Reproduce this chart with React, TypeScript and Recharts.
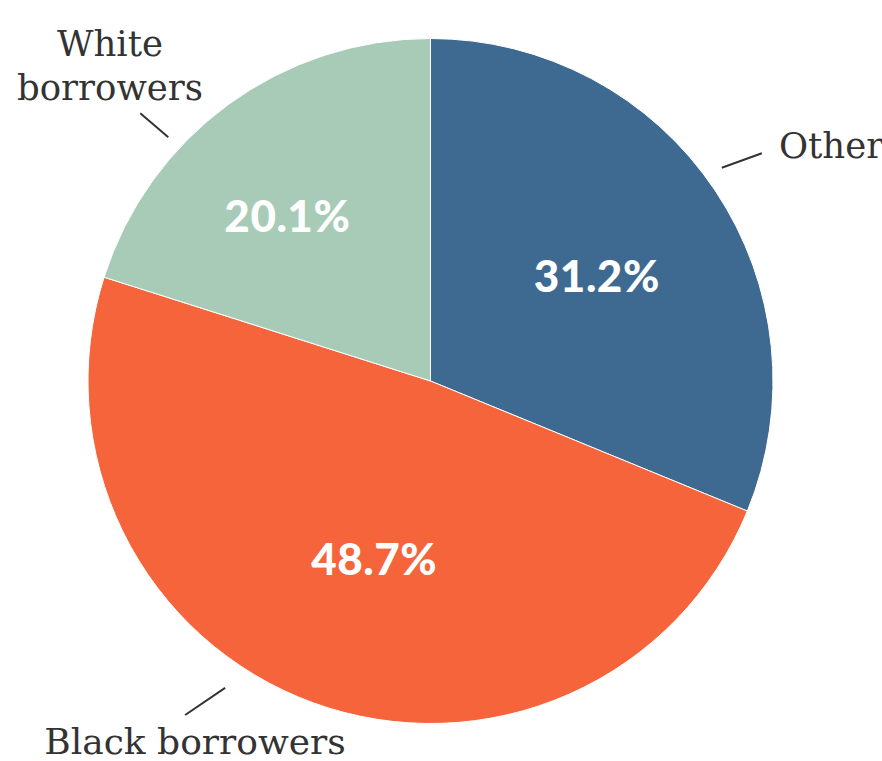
import React from 'react';
import { PieChart, Pie, Cell } from 'recharts';

const categories = ['Other', 'Black borrowers', 'White borrowers'];
const shares = [31.2, 48.7, 20.1];
const pctLabels = ['31.2%', '48.7%', '20.1%'];
const outerLabelLines = [['Other'], ['Black borrowers'], ['White', 'borrowers']];

const colors = ['#3e6a91', '#f5643a', '#a7cbb7'];

// label layout: angle offsets (deg, clockwise) and radius factors relative to outerRadius
const inner = [
  { da: 1.3, rf: 0.576 },
  { da: -2.3, rf: 0.542 },
  { da: -4.6, rf: 0.64 },
];
const leaders = [
  { a0: 53.8, r0: 1.054, a1: 55.5, r1: 1.174, tx: 779, anchor: 'start', ty: 145, fs: 35.5 },
  { a0: 213.8, r0: 1.078, a1: 216.3, r1: 1.21, tx: 195, anchor: 'middle', ty: 741, fs: 36 },
  { a0: 312.9, r0: 1.045, a1: 312.7, r1: 1.153, tx: 110, anchor: 'middle', ty: 65, fs: 35.5 },
];

const data = categories.map((name, i) => ({ name, value: shares[i], pct: pctLabels[i] }));

const RAD = Math.PI / 180;
const pt = (cx: number, cy: number, r: number, cwDeg: number) => ({
  x: cx + r * Math.sin(cwDeg * RAD),
  y: cy - r * Math.cos(cwDeg * RAD),
});

const renderLabel = (props: any) => {
  const { cx, cy, midAngle, outerRadius, index } = props;
  const cwMid = 90 - midAngle;
  const ip = pt(cx, cy, outerRadius * inner[index].rf, cwMid + inner[index].da);
  const L = leaders[index];
  const p0 = pt(cx, cy, outerRadius * L.r0, L.a0);
  const p1 = pt(cx, cy, outerRadius * L.r1, L.a1);
  const lines = outerLabelLines[index];
  const lh = 44;
  return (
    <g>
      <text
        x={ip.x}
        y={ip.y}
        textAnchor="middle"
        dominantBaseline="central"
        fill="#ffffff"
        style={{ fontFamily: 'Lato, sans-serif', fontWeight: 900, fontSize: 44, letterSpacing: 0.5 }}
      >
        {data[index].pct}
      </text>
      <line x1={p0.x} y1={p0.y} x2={p1.x} y2={p1.y} stroke="#333333" strokeWidth={2} />
      <text
        x={L.tx}
        textAnchor={L.anchor}
        fill="#333333"
        style={{ fontFamily: '"DejaVu Serif", serif', fontSize: L.fs }}
      >
        {lines.map((ln, k) => (
          <tspan key={k} x={L.tx} y={L.ty + (k - (lines.length - 1) / 2) * lh} dominantBaseline="central">
            {ln}
          </tspan>
        ))}
      </text>
    </g>
  );
};

export default function App() {
  return (
    <div style={{ position: 'absolute', left: 0, top: 0, width: 882, height: 761, background: '#fff' }}>
      <PieChart width={882} height={761} margin={{ top: 0, right: 0, bottom: 0, left: 0 }}>
        <Pie
          data={data}
          dataKey="value"
          nameKey="name"
          cx={430.5}
          cy={381}
          outerRadius={342.5}
          innerRadius={0}
          startAngle={90}
          endAngle={-270}
          stroke="#ffffff"
          strokeWidth={1}
          label={renderLabel}
          labelLine={false}
          isAnimationActive={false}
        >
          {data.map((d, i) => (
            <Cell key={d.name} fill={colors[i]} />
          ))}
        </Pie>
      </PieChart>
    </div>
  );
}
